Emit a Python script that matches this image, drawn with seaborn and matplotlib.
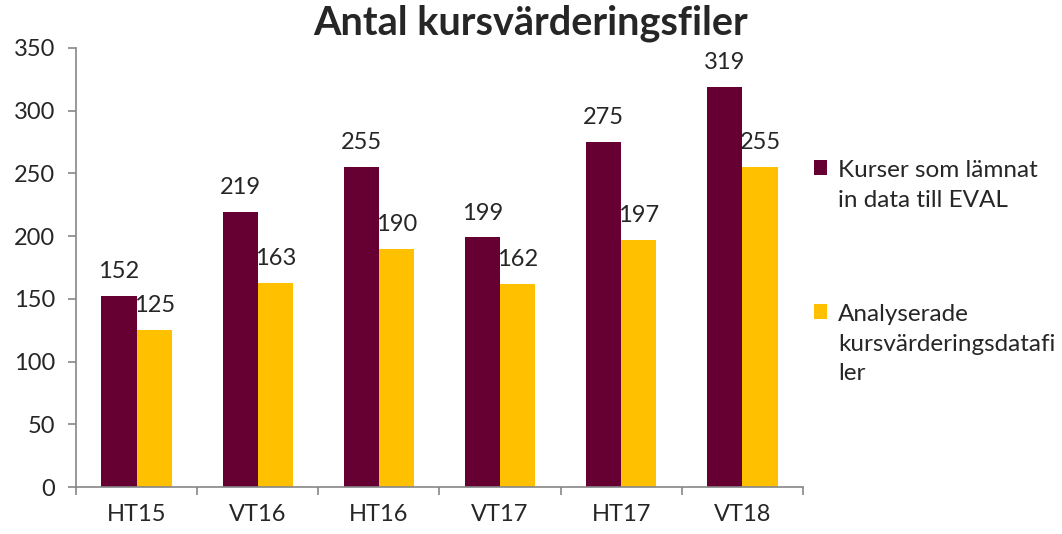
import matplotlib.pyplot as plt
import numpy as np
import pandas as pd
import seaborn as sns
from matplotlib.ticker import FixedLocator

# data
terms = ["HT15", "VT16", "HT16", "VT17", "HT17", "VT18"]
kurser = [152, 219, 255, 199, 275, 319]
analyserade = [125, 163, 190, 162, 197, 255]
series_names = ["Kurser som lämnat in data till EVAL", "Analyserade kursvärderingsdatafiler"]
legend_labels = ["Kurser som lämnat\nin data till EVAL", "Analyserade\nkursvärderingsdatafi\nler"]
colors = ["#660033", "#FFC000"]
title = "Antal kursvärderingsfiler"

df = pd.DataFrame(
    {
        "term": terms * 2,
        "value": kurser + analyserade,
        "series": [series_names[0]] * len(terms) + [series_names[1]] * len(terms),
    }
)

sns.set_style("white")
plt.rcParams["font.family"] = ["Lato", "DejaVu Sans"]
fs = 17

fig = plt.figure(figsize=(10.62, 5.34), dpi=100)
ax = fig.add_axes([76 / 1062, 1 - 487 / 534, (803 - 76) / 1062, (487 - 48) / 534])

sns.barplot(
    data=df,
    x="term",
    y="value",
    hue="series",
    palette=colors,
    width=0.58,
    saturation=1,
    linewidth=0,
    ax=ax,
)

for cont in ax.containers:
    ax.bar_label(cont, padding=10, fontsize=fs)

ax.set_ylim(0, 350)
ax.set_xlim(-0.5, len(terms) - 0.5)
ax.set_yticks(np.arange(0, 351, 50))
ax.set_xlabel("")
ax.set_ylabel("")

grey = "#868686"
for side in ["top", "right"]:
    ax.spines[side].set_visible(False)
for side in ["left", "bottom"]:
    ax.spines[side].set_color(grey)
    ax.spines[side].set_linewidth(1.2)

ax.tick_params(axis="y", which="major", direction="out", length=6, width=1.2,
               color=grey, labelsize=fs, pad=9, left=True)
ax.tick_params(axis="x", which="major", length=0, labelsize=fs, pad=12)
ax.xaxis.set_minor_locator(FixedLocator(np.arange(-0.5, len(terms), 1.0)))
ax.tick_params(axis="x", which="minor", direction="out", length=6, width=1.2,
               color=grey, bottom=True)

handles, _ = ax.get_legend_handles_labels()
ax.get_legend().remove()
leg = fig.legend(
    handles,
    legend_labels,
    loc="upper left",
    bbox_to_anchor=(814 / 1062, 1 - 160 / 534),
    frameon=False,
    fontsize=17.5,
    handlelength=0.55,
    handleheight=0.55,
    handletextpad=0.45,
    labelspacing=3.85,
    borderpad=0,
    borderaxespad=0,
)
for t in leg.get_texts():
    t.set_linespacing(1.5)
# put the colour square next to the first line of each label
for col in leg._legend_handle_box.get_children():
    for row in col.get_children():
        row.align = "top"

fig.suptitle(title, x=0.5, y=1 - 5 / 534, va="top", fontsize=28.5, fontweight="bold")

fig.savefig("out.png", dpi=100)
